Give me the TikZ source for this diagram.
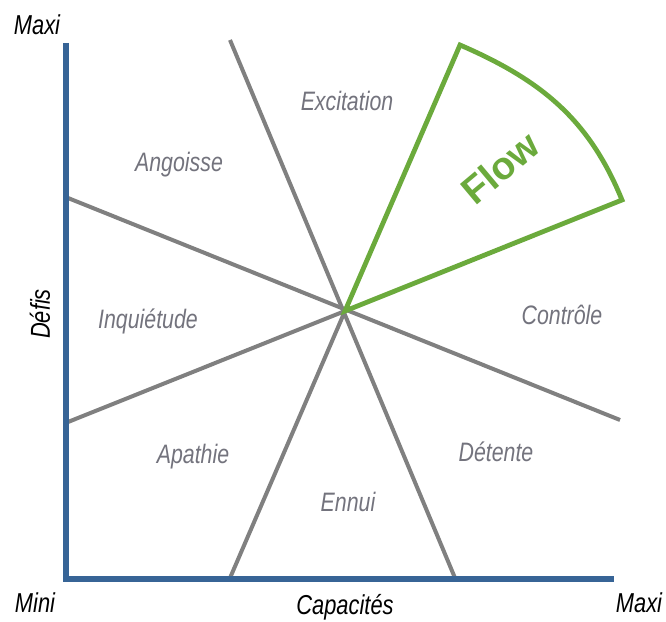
\documentclass[tikz,border=0pt]{standalone}
\usepackage{fontspec}
\setmainfont{Liberation Sans}
\newfontfamily\narrowfont[FakeStretch=0.8]{Liberation Sans}
\definecolor{AxisBlue}{RGB}{55,100,150}
\definecolor{ZoneGray}{RGB}{128,128,128}
\definecolor{FlowGreen}{RGB}{107,170,60}
\definecolor{LabelGray}{RGB}{115,115,125}
\begin{document}
\begin{tikzpicture}[x=0.75pt, y=0.75pt,
	zone/.style={line width=3pt, ZoneGray},
	zonelabel/.style={font=\narrowfont\itshape\fontsize{20}{24}\selectfont, text=LabelGray},
	axislabel/.style={font=\narrowfont\itshape\fontsize{20.5}{24}\selectfont, text=black}]
	\useasboundingbox (0,0) rectangle (666,621);

		\coordinate (Center) at (345,310);
		\coordinate (TopLeftEnd) at (230,581);
		\coordinate (BottomRightEnd) at (455,43);
		\coordinate (LeftHighEnd) at (68,423);
		\coordinate (RightLowEnd) at (620,201);
		\coordinate (LeftLowEnd) at (68,199);
		\coordinate (BottomLeftEnd) at (230,43);
		\draw [zone] (TopLeftEnd) -- (BottomRightEnd);% Excitation / Detente
		\draw [zone] (LeftHighEnd) -- (RightLowEnd);% Angoisse / Controle
		\draw [zone] (LeftLowEnd) -- (Center);
		\draw [zone] (BottomLeftEnd) -- (Center);

		\coordinate (FlowTop) at (460,576);
		\coordinate (FlowRight) at (622,421);
		\draw [FlowGreen, line width=3.6pt, line join=miter]
			(Center) -- (FlowTop) to [out=-23.4, in=112.2] (FlowRight) -- cycle;% Flow zone

		\coordinate (YAxisMax) at (66,578);
		\coordinate (Origin) at (66,42);
		\coordinate (XAxisMax) at (614,42);
		\draw [AxisBlue, line width=3.8pt, line join=miter] (YAxisMax) -- (Origin) -- (XAxisMax);% Draw axes

		\node [axislabel] (YMax) at (37,596) {Maxi};
		\node [axislabel] (XMin) at (35,18) {Mini};
		\node [axislabel] (XMax) at (639,18) {Maxi};
		\node [axislabel] (XName) at (345,14) {Capacités};
		\node [axislabel, rotate=90] (YName) at (40,307) {Défis};

		\node [zonelabel] (Excitation) at (347,520) {Excitation};
		\node [zonelabel] (Angoisse) at (179,456) {Angoisse};
		\node [zonelabel] (Inquietude) at (148,300) {Inquiétude};
		\node [zonelabel] (Apathie) at (193,164) {Apathie};
		\node [zonelabel] (Ennui) at (348,119) {Ennui};
		\node [zonelabel] (Detente) at (496,169) {Détente};
		\node [zonelabel] (Controle) at (562,306) {Contrôle};
		\node [FlowGreen, rotate=40, font=\bfseries\fontsize{29}{34}\selectfont] (Flow) at (500,453) {Flow};
\end{tikzpicture}
\end{document}
